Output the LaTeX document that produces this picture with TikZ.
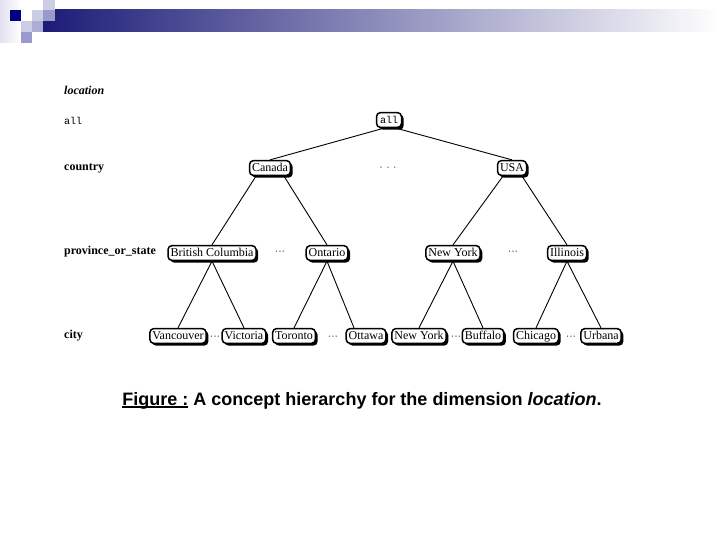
\documentclass[tikz,border=0pt]{standalone}
\usepackage{fontspec}
\setmainfont{Liberation Serif}
\setmonofont{Liberation Mono}
\newfontfamily\capfont{Liberation Sans}
\usetikzlibrary{calc}
\usetikzlibrary{shadows}
\definecolor{slidenavy}{RGB}{0,0,128}
\definecolor{slidebar}{RGB}{28,28,120}
\definecolor{slidemid}{RGB}{153,153,204}
\definecolor{slidelight}{RGB}{204,204,230}
\definecolor{slidepale}{RGB}{226,226,240}
\newcommand{\figline}[1]{\setbox0\hbox{#1}\rlap{\rule[-2.6pt]{\wd0}{1.6pt}}\box0\relax}
\newcommand{\gapdots}[1]{\textbullet\hspace{#1}\textbullet\hspace{#1}\textbullet}

\tikzset{
  concept/.style={draw, line width=1.5pt, rounded corners=4pt, fill=white,
    inner xsep=2.5pt, inner ysep=2pt, text height=9.2pt, text depth=1.6pt,
    font=\fontsize{12}{12}\selectfont,
    drop shadow={shadow xshift=2.2pt, shadow yshift=-2.2pt, opacity=1, fill=black}},
  tierlabel/.style={anchor=west, inner sep=0pt, font=\fontsize{12}{12}\selectfont\bfseries},
  dotsgap/.style={inner sep=0pt, text=black!75, font=\fontsize{5.5}{6}\selectfont},
  branch/.style={line width=0.9pt}
}

\begin{document}
\begin{tikzpicture}[x=1pt,y=-1pt]
  \useasboundingbox (0,0) rectangle (720,540);
  % slide decoration
  \shade [left color=slidepale, right color=white] (0,0) rectangle (21,43);
  \shade [left color=slidebar, right color=white] (43,10) rectangle (720,32);
  \fill [slidenavy] (10,10) rectangle (21,21);
  \fill [slidelight] (32,10) rectangle (43,21);
  \fill [slidelight] (43,0) rectangle (55,10);
  \fill [slidemid] (43,10) rectangle (55,21);
  \fill [slidelight] (21,21) rectangle (32,32);
  \fill [slidemid!80!white] (32,21) rectangle (43,32);
  \fill [slidemid] (21,32) rectangle (32,43);

  % level names
  \node [tierlabel, font=\fontsize{12}{12}\selectfont\bfseries\itshape] (llocation) at (64,90) {location};
  \node [tierlabel, font=\fontsize{10}{10}\selectfont\ttfamily] (lall) at (64,121) {all};
  \node [tierlabel] (lcountry) at (64,168) {country};
  \node [tierlabel] (lprov) at (64,252) {province\_or\_state};
  \node [tierlabel] (lcity) at (64,336) {city};

  % tree
  \node [concept, font=\fontsize{10}{10}\selectfont\ttfamily, inner xsep=3.5pt] (all) at (389,120) {all};
  \node [concept] (canada) at (270,168) {Canada};
  \node [dotsgap] (d0) at (388,168) {\gapdots{5pt}};
  \node [concept] (usa) at (512,168) {USA};

  \node [concept] (bc) at (212,253) {British Columbia};
  \node [dotsgap] (d1) at (280,252) {\gapdots{1.5pt}};
  \node [concept] (ontario) at (327,253) {Ontario};
  \node [concept] (ny) at (453,253) {New York};
  \node [dotsgap] (d2) at (513,252) {\gapdots{1.5pt}};
  \node [concept] (illinois) at (567,253) {Illinois};

  \node [concept] (vancouver) at (178,336) {Vancouver};
  \node [dotsgap] (d3) at (215,337) {\gapdots{1.5pt}};
  \node [concept] (victoria) at (244,336) {Victoria};
  \node [concept] (toronto) at (294,336) {Toronto};
  \node [dotsgap] (d4) at (333,337) {\gapdots{1.5pt}};
  \node [concept] (ottawa) at (366,336) {Ottawa};
  \node [concept] (nyc) at (419,336) {New York};
  \node [dotsgap] (d5) at (456,337) {\gapdots{1.5pt}};
  \node [concept] (buffalo) at (483,336) {Buffalo};
  \node [concept] (chicago) at (536,336) {Chicago};
  \node [dotsgap] (d6) at (571,337) {\gapdots{1.5pt}};
  \node [concept] (urbana) at (601,336) {Urbana};

  \draw [branch] ($(all.south)+(-5,0)$) -- (canada.north);
  \draw [branch] ($(all.south)+(7,0)$) -- (usa.north);
  \draw [branch] ($(canada.south)+(-14,0)$) -- (bc.north);
  \draw [branch] ($(canada.south)+(14,0)$) -- (ontario.north);
  \draw [branch] ($(usa.south)+(-9,0)$) -- (ny.north);
  \draw [branch] ($(usa.south)+(10,0)$) -- (illinois.north);
  \draw [branch] (bc.south) -- (vancouver.north);
  \draw [branch] (bc.south) -- (victoria.north);
  \draw [branch] (ontario.south) -- (toronto.north);
  \draw [branch] (ontario.south) -- ($(ottawa.north)+(-12,0)$);
  \draw [branch] (ny.south) -- (nyc.north);
  \draw [branch] (ny.south) -- (buffalo.north);
  \draw [branch] (illinois.south) -- (chicago.north);
  \draw [branch] (illinois.south) -- (urbana.north);

  \node [anchor=base, inner sep=0pt, font=\capfont\fontsize{18}{18}\selectfont\bfseries] (caption) at (362,405)
    {\figline{Figure :} A concept hierarchy for the dimension \textit{location}.};
\end{tikzpicture}
\end{document}
